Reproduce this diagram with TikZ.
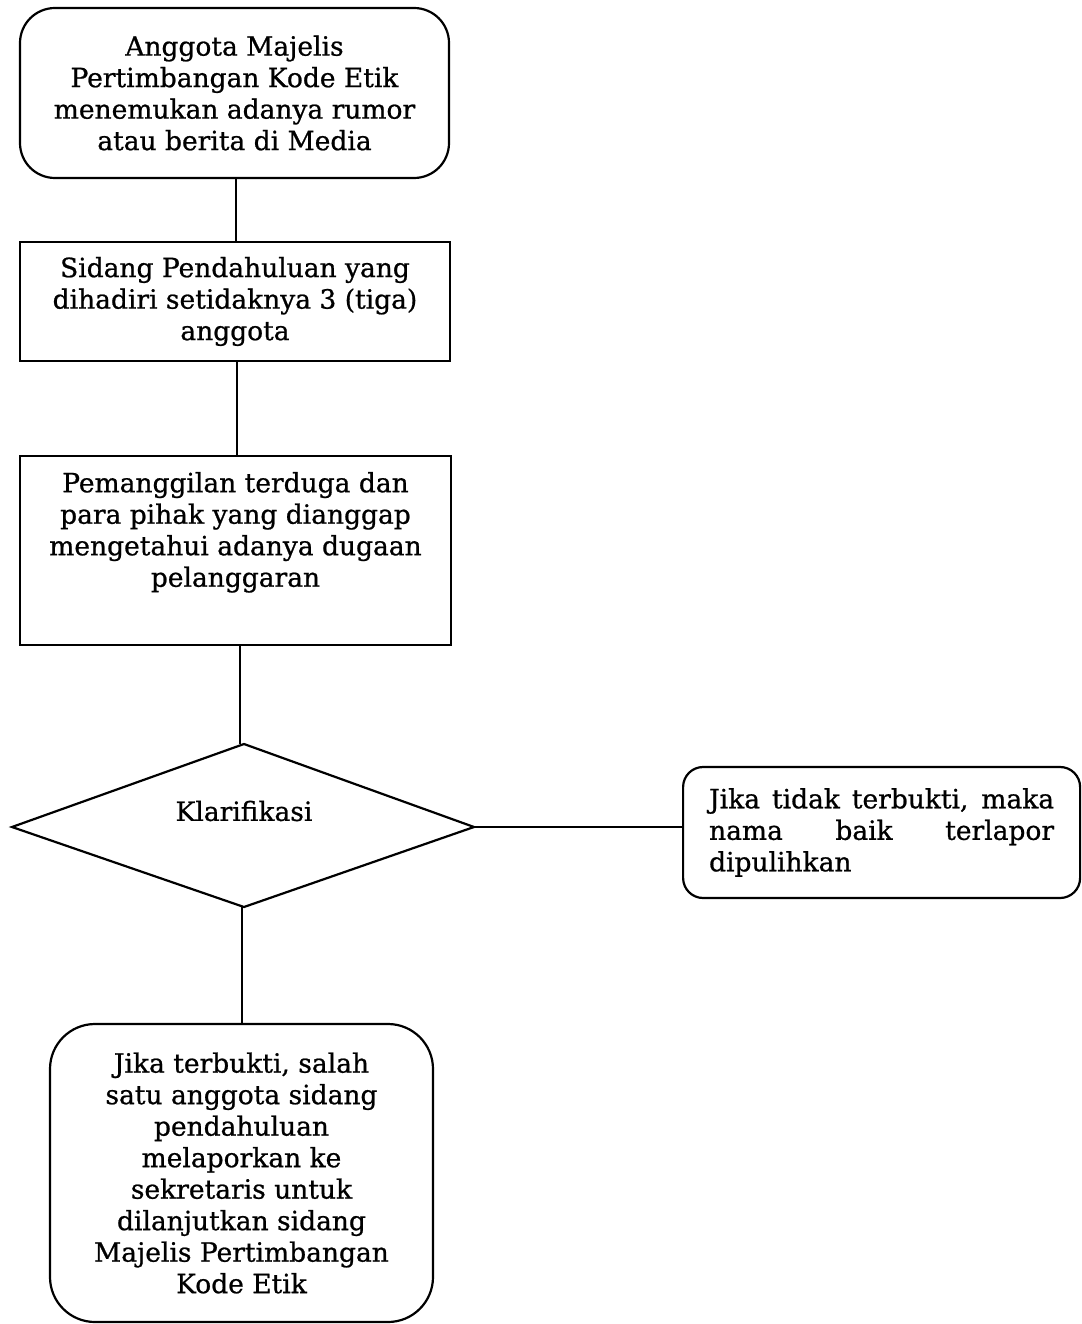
\documentclass[tikz,border=0pt]{standalone}
\usepackage{fontspec}
\setmainfont{DejaVu Serif}[BoldFont={DejaVu Serif}, BoldFeatures={FakeBold=0.8}]
\usetikzlibrary{shapes.geometric}
\begin{document}
\begin{tikzpicture}[x=1pt,y=-1pt,
  line width=2.2pt,
  txtfont/.style={font=\fontsize{26.5}{31.5}\selectfont\bfseries},
  txt/.style={txtfont, align=center},
  rbox/.style={draw, rounded corners=35pt, inner sep=0pt, txt},
  sbox/.style={draw, inner sep=0pt, txt},
  conn/.style={line width=2pt}]
\useasboundingbox (0,0) rectangle (1081,1324);
\node[rbox, minimum width=429pt, minimum height=170pt] (a) at (234.5,93)
  {Anggota Majelis\\Pertimbangan Kode Etik\\menemukan adanya rumor\\atau berita di Media};
\node[sbox, minimum width=430pt, minimum height=119pt] (b) at (235,301.5)
  {Sidang Pendahuluan yang\\dihadiri setidaknya 3 (tiga)\\anggota};
\node[sbox, minimum width=431pt, minimum height=189pt, anchor=north] (c) at (235.5,455)
  {\parbox[c][189pt][t]{425pt}{\centering\vspace*{16pt}Pemanggilan terduga dan\\para pihak yang dianggap\\mengetahui adanya dugaan\\pelanggaran}};
\coordinate (dt) at (244,744);
\coordinate (dl) at (12,827);
\coordinate (dr) at (474,827);
\coordinate (db) at (244,907);
\draw (dt) -- (dr) -- (db) -- (dl) -- cycle;
\node[txt] (k) at (244,811) {Klarifikasi};
\node[draw, rounded corners=20pt, inner sep=0pt, minimum width=397pt, minimum height=131pt, anchor=west] (r) at (682,832.5)
  {\parbox{345pt}{\fontsize{26.5}{31.5}\selectfont\bfseries\noindent Jika tidak terbukti, maka\linebreak nama baik terlapor\linebreak dipulihkan}};
\node[rbox, rounded corners=45pt, minimum width=383pt, minimum height=298pt] (e) at (241.5,1173)
  {Jika terbukti, salah\\satu anggota sidang\\pendahuluan\\melaporkan ke\\sekretaris untuk\\dilanjutkan sidang\\Majelis Pertimbangan\\Kode Etik};
\draw[conn] (a.south -| 236,0) -- (b.north -| 236,0);
\draw[conn] (b.south -| 237,0) -- (c.north -| 237,0);
\draw[conn] (c.south -| 240,0) -- (dt -| 240,0);
\draw[conn] (dr) -- (r.west |- dr);
\draw[conn] (db -| 242,0) -- (e.north -| 242,0);
\end{tikzpicture}
\end{document}
